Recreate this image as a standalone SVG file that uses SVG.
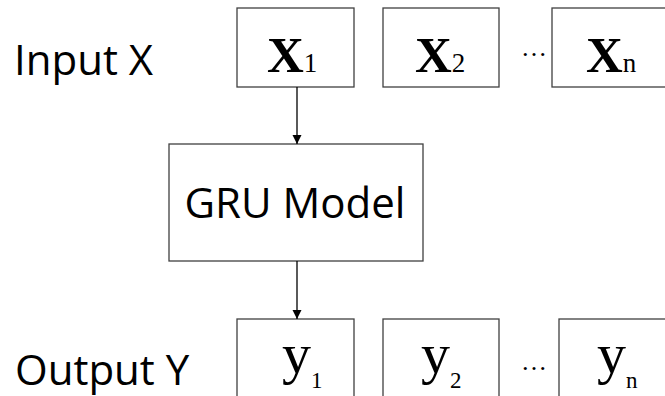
<svg xmlns="http://www.w3.org/2000/svg" width="665" height="396" viewBox="0 0 665 396">
  <style>
    .box { fill: #ffffff; stroke: #404040; stroke-width: 1.3; }
    .label { font-family: "Open Sans", "Liberation Sans", sans-serif; font-size: 42px; fill: #000000; }
    .var { font-family: "Liberation Serif", "Times New Roman", serif; font-weight: bold; fill: #000000; }
    .out { font-family: "Liberation Serif", "Times New Roman", serif; font-weight: normal; fill: #000000; }
    .sub { font-family: "Liberation Serif", "Times New Roman", serif; font-weight: normal; fill: #000000; }
    .dots { font-family: "Liberation Serif", "Times New Roman", serif; font-size: 26px; fill: #000000; }
    .edge { stroke: #000000; stroke-width: 1.3; fill: none; marker-end: url(#arrow); }
  </style>
  <defs>
    <marker id="arrow" viewBox="0 0 10 10" refX="10" refY="5" markerWidth="9" markerHeight="11" markerUnits="userSpaceOnUse" orient="auto">
      <path d="M0,0 L10,5 L0,10 Z" fill="#000000"/>
    </marker>
  </defs>
  <rect width="665" height="396" fill="#ffffff"/>

  <!-- row labels -->
  <text id="label-input" class="label" x="14" y="75">Input X</text>
  <text id="label-output" class="label" x="15" y="385">Output Y</text>

  <!-- input sequence -->
  <g id="x1">
    <rect class="box" x="237" y="8" width="117" height="79"/>
    <text class="var" x="267" y="72" font-size="51">X<tspan class="sub" font-size="27">1</tspan></text>
  </g>
  <g id="x2">
    <rect class="box" x="383" y="8" width="116" height="79"/>
    <text class="var" x="415" y="72" font-size="51">X<tspan class="sub" font-size="27">2</tspan></text>
  </g>
  <text class="dots" x="521" y="56">…</text>
  <g id="xn">
    <rect class="box" x="552" y="8" width="116" height="79"/>
    <text class="var" x="586" y="72" font-size="51">X<tspan class="sub" font-size="27">n</tspan></text>
  </g>

  <!-- model -->
  <g id="gru">
    <rect class="box" x="169" y="144" width="254" height="117"/>
    <text class="label" x="295" y="218" text-anchor="middle" font-size="43">GRU Model</text>
  </g>

  <!-- output sequence -->
  <g id="y1">
    <rect class="box" x="237" y="319" width="117" height="90"/>
    <text class="out" x="282" y="373" font-size="58">y<tspan class="sub" font-size="23" dy="15">1</tspan></text>
  </g>
  <g id="y2">
    <rect class="box" x="383" y="319" width="116" height="90"/>
    <text class="out" x="421" y="373" font-size="58">y<tspan class="sub" font-size="23" dy="15">2</tspan></text>
  </g>
  <text class="dots" x="521" y="370">…</text>
  <g id="yn">
    <rect class="box" x="559" y="319" width="110" height="90"/>
    <text class="out" x="597" y="373" font-size="58">y<tspan class="sub" font-size="23" dy="15">n</tspan></text>
  </g>

  <!-- connectors -->
  <g id="connectors">
    <line class="edge" x1="297" y1="87" x2="297" y2="144"/>
    <line class="edge" x1="297" y1="261" x2="297" y2="319"/>
  </g>
</svg>
